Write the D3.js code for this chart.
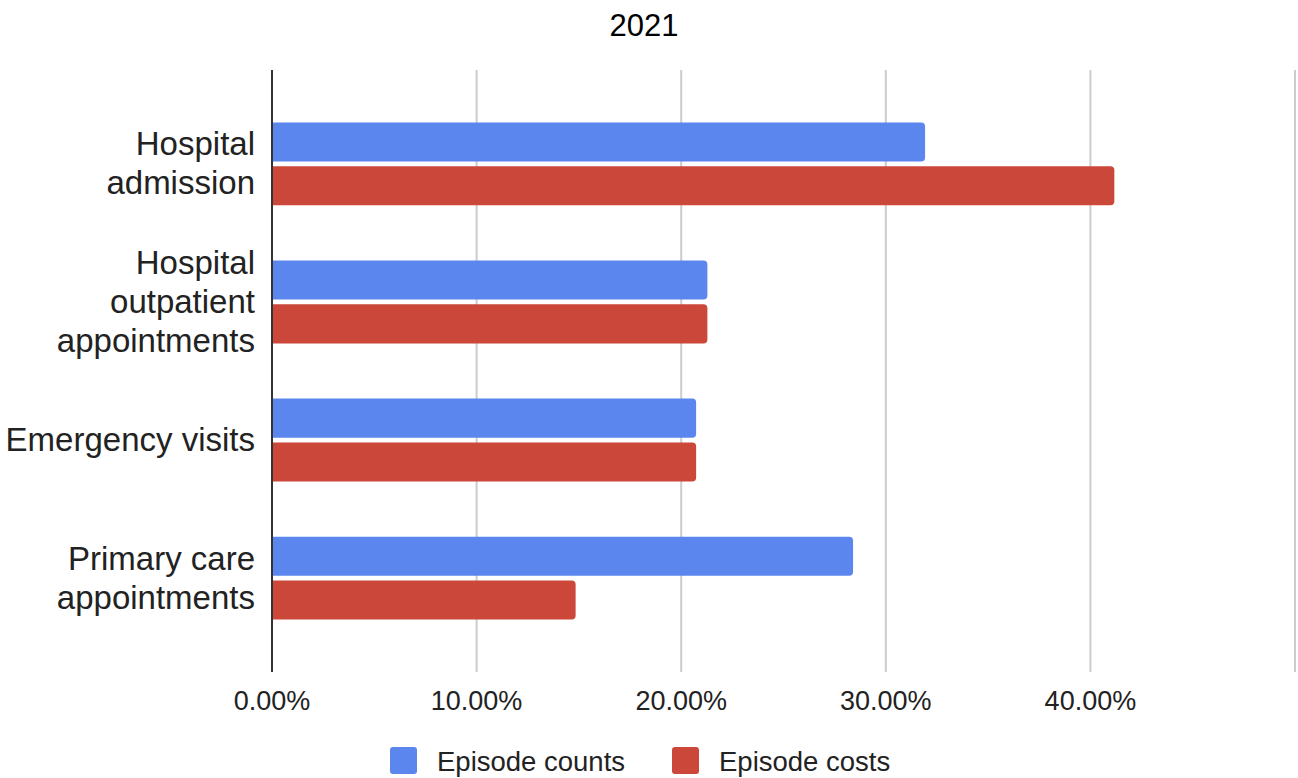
<!DOCTYPE html>
<html>
<head>
<meta charset="utf-8">
<script src="https://cdn.jsdelivr.net/npm/d3@7"></script>
<style>
  body { margin: 0; background: #fff; }
  svg { font-family: "Liberation Sans", Arial, sans-serif; }
</style>
</head>
<body>
<svg id="chart" width="1298" height="778"></svg>
<script>
// data
const categories = [
  ["Hospital", "admission"],
  ["Hospital", "outpatient", "appointments"],
  ["Emergency visits"],
  ["Primary care", "appointments"]
];
const seriesNames = ["Episode counts", "Episode costs"];
const seriesColors = ["#5b86ee", "#cb473a"];
const episodeCounts = [0.3192, 0.2128, 0.2073, 0.2840];
const episodeCosts = [0.4117, 0.2128, 0.2073, 0.1484];
const tickValues = [0, 0.1, 0.2, 0.3, 0.4, 0.5];

const svg = d3.select("#chart");
const plotLeft = 272, plotRight = 1295, plotTop = 70, plotBottom = 672;

const x = d3.scaleLinear().domain([0, 0.5]).range([plotLeft, plotRight]);
const y = d3.scaleBand()
  .domain(d3.range(categories.length))
  .range([plotTop, plotBottom])
  .paddingInner(0.4)
  .paddingOuter(0.38);
const inner = d3.scaleBand()
  .domain([0, 1])
  .range([0, y.bandwidth()])
  .paddingInner(0.11);

// title
svg.append("text")
  .attr("x", 644).attr("y", 36)
  .attr("text-anchor", "middle")
  .attr("font-size", 31)
  .attr("fill", "#000")
  .text("2021");

// gridlines
svg.append("g")
  .selectAll("line")
  .data(tickValues.slice(1))
  .join("line")
  .attr("x1", d => x(d)).attr("x2", d => x(d))
  .attr("y1", plotTop).attr("y2", plotBottom)
  .attr("stroke", "#cccccc")
  .attr("stroke-width", 2);

// tick labels
svg.append("g")
  .selectAll("text")
  .data(tickValues.slice(0, 5))
  .join("text")
  .attr("x", d => x(d))
  .attr("y", 710)
  .attr("text-anchor", "middle")
  .attr("font-size", 27)
  .attr("fill", "#222")
  .text(d => d3.format(".2%")(d));

// bars with rounded right end
function barPath(x0, y0, w, h, r) {
  r = Math.min(r, w, h / 2);
  return `M${x0},${y0}H${x0 + w - r}Q${x0 + w},${y0} ${x0 + w},${y0 + r}` +
    `V${y0 + h - r}Q${x0 + w},${y0 + h} ${x0 + w - r},${y0 + h}H${x0}Z`;
}

const rows = categories.map((c, i) => ({ i, values: [episodeCounts[i], episodeCosts[i]] }));

svg.append("g")
  .selectAll("g")
  .data(rows)
  .join("g")
  .attr("transform", d => `translate(0,${y(d.i)})`)
  .selectAll("path")
  .data(d => d.values.map((v, s) => ({ v, s })))
  .join("path")
  .attr("d", d => barPath(x(0), inner(d.s), x(d.v) - x(0), inner.bandwidth(), 4))
  .attr("fill", d => seriesColors[d.s]);

// baseline axis
svg.append("line")
  .attr("x1", plotLeft).attr("x2", plotLeft)
  .attr("y1", plotTop).attr("y2", plotBottom)
  .attr("stroke", "#333")
  .attr("stroke-width", 2);

// category labels
const lineH = 39;
svg.append("g")
  .selectAll("text")
  .data(categories)
  .join("text")
  .attr("text-anchor", "end")
  .attr("font-size", 33)
  .attr("fill", "#222")
  .each(function (lines, i) {
    const cy = y(i) + y.bandwidth() / 2;
    const y0 = cy - (lines.length - 1) * lineH / 2 + 11;
    d3.select(this).selectAll("tspan")
      .data(lines)
      .join("tspan")
      .attr("x", 255)
      .attr("y", (d, k) => y0 + k * lineH)
      .text(d => d);
  });

// legend
const legendX = [390, 672];
const legend = svg.append("g")
  .selectAll("g")
  .data(seriesNames)
  .join("g")
  .attr("transform", (d, i) => `translate(${legendX[i]},747)`);
legend.append("rect")
  .attr("width", 27).attr("height", 27).attr("rx", 3)
  .attr("fill", (d, i) => seriesColors[i]);
legend.append("text")
  .attr("x", 47).attr("y", 24)
  .attr("font-size", 27.5)
  .attr("fill", "#222")
  .text(d => d);
</script>
</body>
</html>
